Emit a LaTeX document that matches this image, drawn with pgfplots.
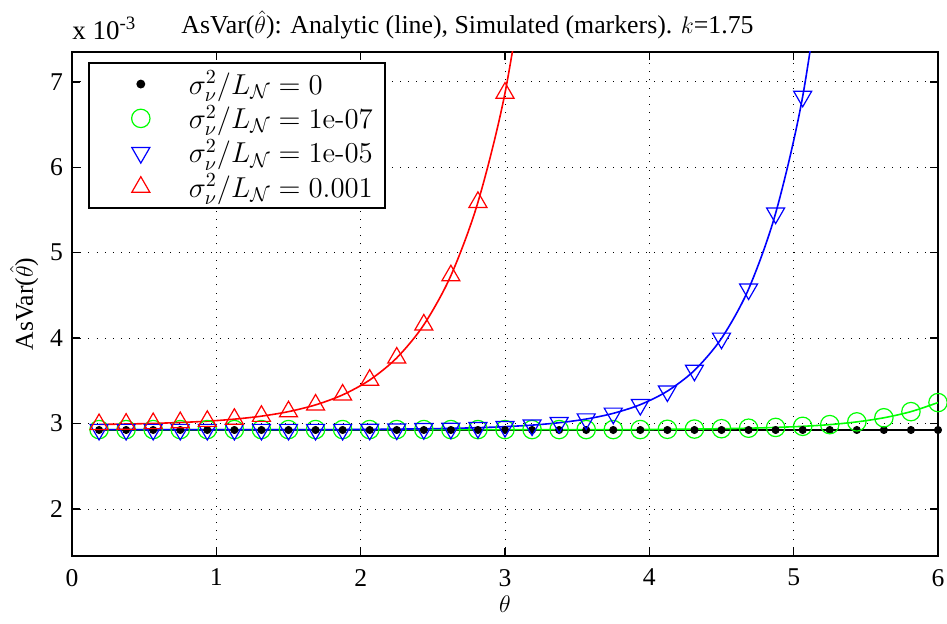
\documentclass[border=0pt]{standalone}
\usepackage[no-math]{fontspec}
\setmainfont{Liberation Serif}
\usepackage{pgfplots}
\pgfplotsset{compat=1.18}
\usetikzlibrary{calc}
\definecolor{mgreen}{rgb}{0,1,0}
\definecolor{mblue}{rgb}{0,0,1}
\definecolor{mred}{rgb}{1,0,0}
\newcommand{\hy}{\mathchar"002D\relax}
\begin{document}
\begin{tikzpicture}
\begin{axis}[
  name=ax,
  width=433pt, height=252pt, scale only axis,
  xmin=0, xmax=6, ymin=1.45, ymax=7.35,
  xtick={0,1,2,3,4,5,6}, ytick={2,3,4,5,6,7},
  grid=major,
  major grid style={black, line width=0.5pt, dash pattern=on 0.5pt off 3.6pt},
  tick align=inside, major tick length=4pt,
  axis line style={line width=0.9pt},
  every tick/.style={black, line width=0.7pt},
  /pgf/number format/assume math mode=true,
  ticklabel style={font=\fontsize{12.8}{14}\selectfont},
  xticklabel style={yshift=-3pt},
  yticklabel style={xshift=-1pt},
  xlabel={$\theta$},
  ylabel={AsVar($\hat{\theta}$)},
  label style={font=\fontsize{12.8}{14}\selectfont},
  xlabel style={yshift=2pt},
  ylabel style={yshift=-1pt},
  legend style={at={(0.0185,0.98)}, anchor=north west, draw=black, line width=0.8pt,
    font=\fontsize{14}{16}\selectfont, row sep=0pt, inner xsep=4pt, inner ysep=2pt},
  legend cell align=left,
  legend image code/.code={\path[draw=none,fill=none] (0pt,-4pt) rectangle (44pt,4pt); \draw[#1] plot[only marks] coordinates {(22pt,0pt)};},
]
% analytic lines
\addplot[black, line width=0.8pt, forget plot] coordinates {
(0.1875,2.925)(0.375,2.925)(0.5625,2.925)(0.75,2.925)(0.9375,2.925)(1.125,2.925)(1.3125,2.925)(1.5,2.925)
(1.6875,2.925)(1.875,2.925)(2.0625,2.925)(2.25,2.925)(2.4375,2.925)(2.625,2.925)(2.8125,2.925)(3.0,2.925)
(3.1875,2.925)(3.375,2.925)(3.5625,2.925)(3.75,2.925)(3.9375,2.925)(4.125,2.925)(4.3125,2.925)(4.5,2.925)
(4.6875,2.925)(4.875,2.925)(5.0625,2.925)(5.25,2.925)(5.4375,2.925)(5.625,2.925)(5.8125,2.925)(6.0,2.925)};
\addplot[mgreen, line width=0.8pt, smooth, forget plot] coordinates {
(0.1875,2.93)(0.375,2.93)(0.5625,2.93)(0.75,2.93)(0.9375,2.93)(1.125,2.93)(1.3125,2.93)(1.5,2.93)
(1.6875,2.93)(1.875,2.93)(2.0625,2.93)(2.25,2.93)(2.4375,2.93)(2.625,2.93)(2.8125,2.93)(3.0,2.93)
(3.1875,2.93)(3.375,2.93)(3.5625,2.93)(3.75,2.93)(3.9375,2.93)(4.125,2.933)(4.3125,2.936)(4.5,2.940)
(4.6875,2.946)(4.875,2.955)(5.0625,2.968)(5.25,2.988)(5.4375,3.02)(5.625,3.068)(5.8125,3.14)(6.0,3.246)};
\addplot[mblue, line width=0.8pt, smooth, forget plot] coordinates {
(0.1875,2.93)(0.375,2.93)(0.5625,2.93)(0.75,2.93)(0.9375,2.93)(1.125,2.93)(1.3125,2.93)(1.5,2.93)
(1.6875,2.93)(1.875,2.93)(2.0625,2.932)(2.25,2.935)(2.4375,2.939)(2.625,2.944)(2.8125,2.952)(3.0,2.964)
(3.1875,2.982)(3.375,3.01)(3.5625,3.053)(3.75,3.12)(3.9375,3.222)(4.125,3.38)(4.3125,3.623)(4.5,3.998)
(4.6875,4.574)(4.875,5.463)(5.0625,6.83)(5.25,8.94)};
\addplot[mred, line width=0.8pt, smooth, forget plot] coordinates {
(0.1875,2.99)(0.375,2.995)(0.5625,3.002)(0.75,3.013)(0.9375,3.028)(1.125,3.052)(1.3125,3.087)(1.5,3.14)
(1.6875,3.219)(1.875,3.336)(2.0625,3.51)(2.25,3.769)(2.4375,4.156)(2.625,4.732)(2.8125,5.591)(3.0,6.87)
(3.1875,8.78)};
% simulated markers
\addplot[only marks, mark=*, mark size=1.8pt, black] coordinates {
(0.1875,2.925)(0.375,2.925)(0.5625,2.925)(0.75,2.925)(0.9375,2.925)(1.125,2.925)(1.3125,2.925)(1.5,2.925)
(1.6875,2.925)(1.875,2.925)(2.0625,2.925)(2.25,2.925)(2.4375,2.925)(2.625,2.925)(2.8125,2.925)(3.0,2.925)
(3.1875,2.925)(3.375,2.925)(3.5625,2.925)(3.75,2.925)(3.9375,2.925)(4.125,2.925)(4.3125,2.925)(4.5,2.925)
(4.6875,2.925)(4.875,2.925)(5.0625,2.925)(5.25,2.925)(5.4375,2.925)(5.625,2.925)(5.8125,2.925)(6.0,2.925)};
\addlegendentry{$\sigma_\nu^2/L_{\mathcal{N}}=0$}
\addplot[only marks, mark=o, mark size=4.6pt, mgreen, mark options={line width=0.6pt}] coordinates {
(0.1875,2.93)(0.375,2.93)(0.5625,2.93)(0.75,2.93)(0.9375,2.93)(1.125,2.93)(1.3125,2.93)(1.5,2.93)
(1.6875,2.93)(1.875,2.93)(2.0625,2.93)(2.25,2.93)(2.4375,2.93)(2.625,2.93)(2.8125,2.93)(3.0,2.93)
(3.1875,2.93)(3.375,2.93)(3.5625,2.93)(3.75,2.93)(3.9375,2.93)(4.125,2.933)(4.3125,2.936)(4.5,2.940)
(4.6875,2.946)(4.875,2.955)(5.0625,2.968)(5.25,2.988)(5.4375,3.02)(5.625,3.068)(5.8125,3.14)(6.0,3.246)};
\addlegendentry{$\sigma_\nu^2/L_{\mathcal{N}}=1\mathrm{e}\hy 07$}
\addplot[only marks, mark=triangle, mark size=5.2pt, mblue, mark options={rotate=180, line width=0.6pt}] coordinates {
(0.1875,2.93)(0.375,2.93)(0.5625,2.93)(0.75,2.93)(0.9375,2.93)(1.125,2.93)(1.3125,2.93)(1.5,2.93)
(1.6875,2.93)(1.875,2.93)(2.0625,2.932)(2.25,2.935)(2.4375,2.939)(2.625,2.944)(2.8125,2.952)(3.0,2.964)
(3.1875,2.982)(3.375,3.01)(3.5625,3.053)(3.75,3.12)(3.9375,3.222)(4.125,3.38)(4.3125,3.623)(4.5,3.998)
(4.6875,4.574)(4.875,5.463)(5.0625,6.83)};
\addlegendentry{$\sigma_\nu^2/L_{\mathcal{N}}=1\mathrm{e}\hy 05$}
\addplot[only marks, mark=triangle, mark size=5.2pt, mred, mark options={line width=0.6pt}] coordinates {
(0.1875,2.99)(0.375,2.995)(0.5625,3.002)(0.75,3.013)(0.9375,3.028)(1.125,3.052)(1.3125,3.087)(1.5,3.14)
(1.6875,3.219)(1.875,3.336)(2.0625,3.51)(2.25,3.769)(2.4375,4.156)(2.625,4.732)(2.8125,5.591)(3.0,6.87)};
\addlegendentry{$\sigma_\nu^2/L_{\mathcal{N}}=0.001$}
\end{axis}
\node[anchor=base west, font=\fontsize{13.5}{15}\selectfont, inner sep=0pt] at ($(ax.north west)+(0pt,6pt)$) {x 10\textsuperscript{-3}};
\node[anchor=base west, font=\fontsize{12.9}{15}\selectfont, inner sep=0pt] at ($(ax.north west)+(54.5pt,9pt)$) {AsVar($\hat{\theta}$): Analytic (line), Simulated (markers). $k$=1.75};
\pgfresetboundingbox
\path[use as bounding box] ($(ax.south west)+(-36pt,-34pt)$) rectangle ($(ax.north east)+(4.5pt,26pt)$);
\end{tikzpicture}
\end{document}
